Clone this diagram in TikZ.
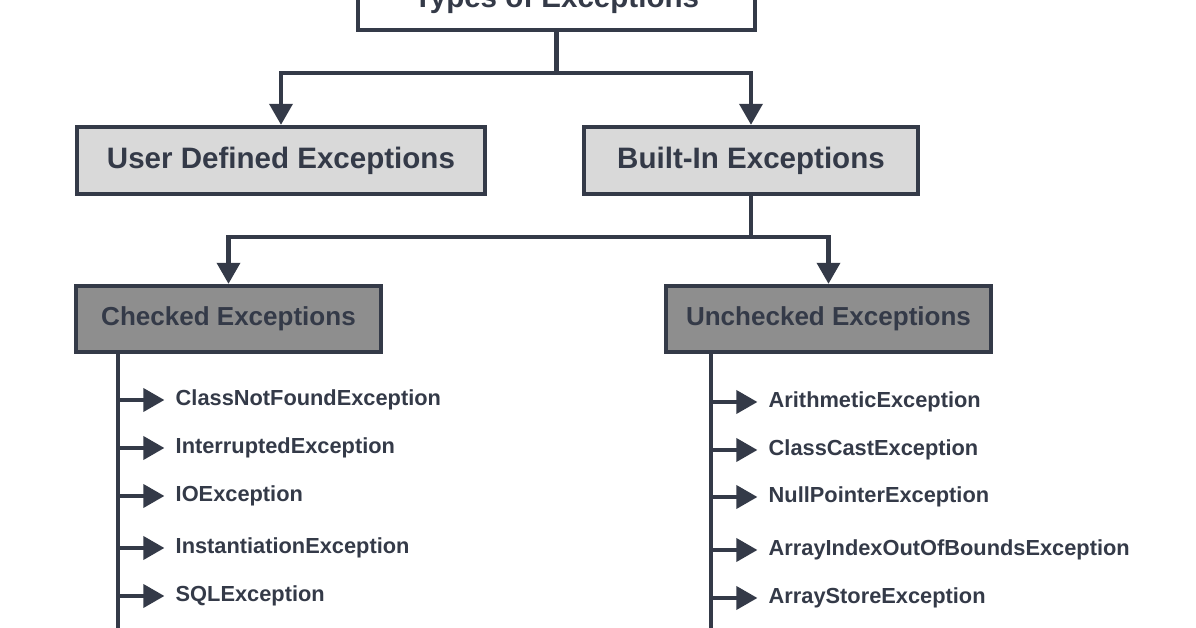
\documentclass[tikz,border=0pt]{standalone}
\usepackage{fontspec}
\setmainfont{Liberation Sans}
\usetikzlibrary{arrows.meta}
\definecolor{ink}{HTML}{343A48}
\definecolor{lightbox}{HTML}{D9D9D9}
\definecolor{darkbox}{HTML}{8E8E8E}
\tikzset{
  box/.style={draw=ink, line width=1.2pt, inner sep=0pt, font=\bfseries\fontsize{8.4pt}{9pt}\selectfont, text=ink},
  subbox/.style={box, fill=darkbox, font=\bfseries\fontsize{7.4pt}{8pt}\selectfont},
  item/.style={font=\bfseries\fontsize{6.2pt}{7pt}\selectfont, text=ink, anchor=west, inner sep=0pt},
  link/.style={draw=ink, line width=1.2pt},
  tip/.style={link, -{Triangle[length=6pt,width=6.5pt]}}
}
\begin{document}
\begin{tikzpicture}[x=0.01cm, y=-0.01cm]
  \useasboundingbox (0,0) rectangle (1196,628);
  \clip (0,0) rectangle (1196,628);

  % boxes
  \node[box, fill=white, minimum width=3.97cm, minimum height=0.6cm] (types) at (556.5,0) {Types of Exceptions};
  \node[box, fill=lightbox, minimum width=4.08cm, minimum height=0.67cm] (user) at (281,160.5) {User Defined Exceptions};
  \node[box, fill=lightbox, minimum width=3.34cm, minimum height=0.67cm] (builtin) at (751,160.5) {Built-In Exceptions};
  \node[subbox, minimum width=3.05cm, minimum height=0.66cm] (checked) at (228.5,319) {Checked Exceptions};
  \node[subbox, minimum width=3.25cm, minimum height=0.66cm] (unchecked) at (828.5,319) {Unchecked Exceptions};

  % tree
  \coordinate (t1) at (556.5,73);
  \draw[link] (types.south) -- (t1);
  \draw[tip] (t1) -| (user.north);
  \draw[tip] (t1) -| (builtin.north);
  \coordinate (t2) at (751,237);
  \draw[link] (builtin.south) -- (t2);
  \draw[tip] (t2) -| (checked.north);
  \draw[tip] (t2) -| (unchecked.north);

  % lists
  \coordinate (cbot) at (118,640);
  \coordinate (ubot) at (711,640);
  \draw[link] (checked.south -| cbot) -- (cbot);
  \draw[link] (unchecked.south -| ubot) -- (ubot);
  \foreach \y/\name [count=\i] in {400/ClassNotFoundException, 448/InterruptedException, 496/IOException, 548/InstantiationException, 596/SQLException} {
    \coordinate (c\i) at (118,\y);
    \node[item] (ci\i) at (175,\y) {\name};
    \draw[tip, shorten >=3pt] (c\i) -- (ci\i.west);
  }
  \foreach \y/\name [count=\i] in {402/ArithmeticException, 450/ClassCastException, 497/NullPointerException, 550/ArrayIndexOutOfBoundsException, 598/ArrayStoreException} {
    \coordinate (u\i) at (711,\y);
    \node[item] (ui\i) at (768,\y) {\name};
    \draw[tip, shorten >=3pt] (u\i) -- (ui\i.west);
  }
\end{tikzpicture}
\end{document}
